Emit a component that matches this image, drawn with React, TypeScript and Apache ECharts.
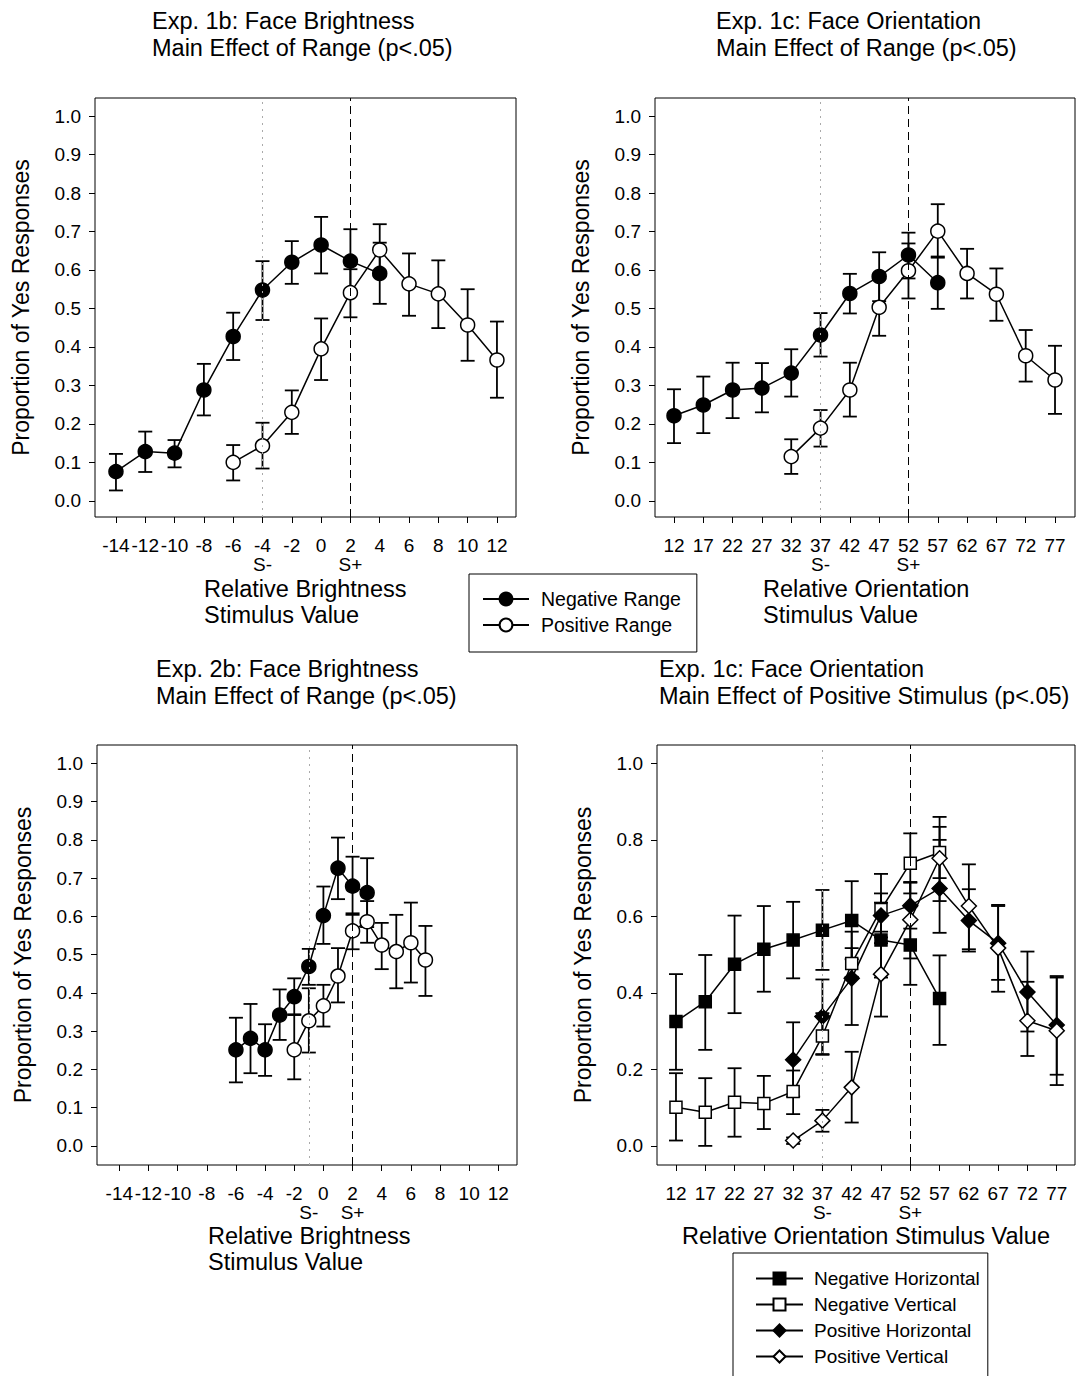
import React, { useEffect, useRef } from "react";
import * as echarts from "echarts";

const FONT = "'Liberation Sans', Arial, sans-serif";

// ---------- tick labels ----------
const brightTicks = [-14, -12, -10, -8, -6, -4, -2, 0, 2, 4, 6, 8, 10, 12];
const orientTicks = [12, 17, 22, 27, 32, 37, 42, 47, 52, 57, 62, 67, 72, 77];
const yTicksTenth = [0, 0.1, 0.2, 0.3, 0.4, 0.5, 0.6, 0.7, 0.8, 0.9, 1.0];
const yTicksFifth = [0, 0.2, 0.4, 0.6, 0.8, 1.0];
const stimNames = ["S-", "S+"];

// ---------- Panel 1: Exp. 1b Face Brightness ----------
const p1Stim = [-4, 2];
const p1NegX = [-14, -12, -10, -8, -6, -4, -2, 0, 2, 4];
const p1Neg = [0.076, 0.128, 0.124, 0.288, 0.427, 0.548, 0.62, 0.665, 0.623, 0.591];
const p1NegLo = [0.027, 0.075, 0.087, 0.222, 0.366, 0.47, 0.564, 0.591, 0.541, 0.512];
const p1NegHi = [0.122, 0.18, 0.158, 0.356, 0.489, 0.623, 0.675, 0.738, 0.706, 0.671];
const p1PosX = [-6, -4, -2, 0, 2, 4, 6, 8, 10, 12];
const p1Pos = [0.1, 0.143, 0.23, 0.395, 0.541, 0.652, 0.564, 0.538, 0.457, 0.366];
const p1PosLo = [0.053, 0.084, 0.174, 0.314, 0.477, 0.585, 0.481, 0.449, 0.364, 0.268];
const p1PosHi = [0.145, 0.203, 0.287, 0.474, 0.602, 0.719, 0.643, 0.625, 0.55, 0.466];

// ---------- Panel 2: Exp. 1c Face Orientation ----------
const p2Stim = [37, 52];
const p2NegX = [12, 17, 22, 27, 32, 37, 42, 47, 52, 57];
const p2Neg = [0.221, 0.249, 0.288, 0.293, 0.332, 0.431, 0.539, 0.583, 0.639, 0.567];
const p2NegLo = [0.15, 0.176, 0.215, 0.23, 0.271, 0.375, 0.487, 0.519, 0.578, 0.499];
const p2NegHi = [0.29, 0.323, 0.359, 0.358, 0.394, 0.488, 0.59, 0.646, 0.697, 0.635];
const p2PosX = [32, 37, 42, 47, 52, 57, 62, 67, 72, 77];
const p2Pos = [0.115, 0.189, 0.288, 0.503, 0.598, 0.701, 0.591, 0.537, 0.377, 0.314];
const p2PosLo = [0.07, 0.141, 0.219, 0.429, 0.526, 0.632, 0.526, 0.468, 0.31, 0.226];
const p2PosHi = [0.16, 0.236, 0.359, 0.577, 0.669, 0.771, 0.655, 0.604, 0.444, 0.403];

// ---------- Panel 3: Exp. 2b Face Brightness ----------
const p3Stim = [-1, 2];
const p3NegX = [-6, -5, -4, -3, -2, -1, 0, 1, 2, 3];
const p3Neg = [0.251, 0.281, 0.251, 0.342, 0.39, 0.469, 0.602, 0.726, 0.679, 0.662];
const p3NegLo = [0.166, 0.19, 0.183, 0.277, 0.342, 0.421, 0.528, 0.645, 0.604, 0.572];
const p3NegHi = [0.335, 0.371, 0.318, 0.409, 0.438, 0.515, 0.678, 0.806, 0.756, 0.752];
const p3PosX = [-2, -1, 0, 1, 2, 3, 4, 5, 6, 7];
const p3Pos = [0.251, 0.327, 0.366, 0.444, 0.562, 0.586, 0.525, 0.508, 0.531, 0.486];
const p3PosLo = [0.174, 0.244, 0.312, 0.375, 0.514, 0.531, 0.462, 0.412, 0.427, 0.392];
const p3PosHi = [0.344, 0.412, 0.421, 0.517, 0.608, 0.64, 0.583, 0.604, 0.636, 0.575];

// ---------- Panel 4: Exp. 1c Face Orientation, positive stimulus ----------
const p4Stim = [37, 52];
const p4NegX = [12, 17, 22, 27, 32, 37, 42, 47, 52, 57];
const p4NegH = [0.325, 0.377, 0.475, 0.514, 0.538, 0.564, 0.589, 0.538, 0.525, 0.385];
const p4NegHLo = [0.199, 0.251, 0.347, 0.403, 0.438, 0.46, 0.488, 0.44, 0.421, 0.264];
const p4NegHHi = [0.449, 0.499, 0.602, 0.627, 0.638, 0.669, 0.692, 0.636, 0.625, 0.498];
const p4NegV = [0.101, 0.088, 0.114, 0.111, 0.142, 0.287, 0.477, 0.618, 0.739, 0.767];
const p4NegVLo = [0.014, 0.0, 0.024, 0.044, 0.083, 0.238, 0.442, 0.53, 0.66, 0.7];
const p4NegVHi = [0.19, 0.177, 0.203, 0.183, 0.197, 0.347, 0.517, 0.711, 0.817, 0.834];
const p4PosX = [32, 37, 42, 47, 52, 57, 62, 67, 72, 77];
const p4PosH = [0.225, 0.338, 0.438, 0.602, 0.628, 0.673, 0.589, 0.53, 0.402, 0.316];
const p4PosHLo = [0.129, 0.24, 0.316, 0.545, 0.568, 0.557, 0.514, 0.434, 0.299, 0.186];
const p4PosHHi = [0.323, 0.435, 0.56, 0.66, 0.688, 0.8, 0.671, 0.627, 0.508, 0.444];
const p4PosV = [0.014, 0.066, 0.153, 0.449, 0.591, 0.752, 0.627, 0.517, 0.327, 0.301];
const p4PosVLo = [0.005, 0.037, 0.061, 0.338, 0.49, 0.64, 0.508, 0.403, 0.235, 0.159];
const p4PosVHi = [0.022, 0.094, 0.246, 0.56, 0.69, 0.86, 0.736, 0.63, 0.429, 0.44];

type S = {
  name: string;
  x: number[];
  y: number[];
  lo: number[];
  hi: number[];
  symbol: string;
  size: number;
  filled: boolean;
};

type Panel = {
  grid: { left: number; top: number; width: number; height: number };
  xMin: number;
  xMax: number;
  yMin: number;
  yMax: number;
  xTicks: number[];
  yTicks: number[];
  stim: number[];
  series: S[];
};

const panels: Panel[] = [
  {
    grid: { left: 95, top: 98, width: 421, height: 419 },
    xMin: -15.43, xMax: 13.3, yMin: -0.042, yMax: 1.047,
    xTicks: brightTicks, yTicks: yTicksTenth, stim: p1Stim,
    series: [
      { name: "Negative Range", x: p1NegX, y: p1Neg, lo: p1NegLo, hi: p1NegHi, symbol: "circle", size: 14, filled: true },
      { name: "Positive Range", x: p1PosX, y: p1Pos, lo: p1PosLo, hi: p1PosHi, symbol: "circle", size: 14, filled: false },
    ],
  },
  {
    grid: { left: 655, top: 98, width: 420, height: 419 },
    xMin: 8.76, xMax: 80.41, yMin: -0.042, yMax: 1.047,
    xTicks: orientTicks, yTicks: yTicksTenth, stim: p2Stim,
    series: [
      { name: "Negative Range", x: p2NegX, y: p2Neg, lo: p2NegLo, hi: p2NegHi, symbol: "circle", size: 14, filled: true },
      { name: "Positive Range", x: p2PosX, y: p2Pos, lo: p2PosLo, hi: p2PosHi, symbol: "circle", size: 14, filled: false },
    ],
  },
  {
    grid: { left: 97, top: 745, width: 420, height: 420 },
    xMin: -15.53, xMax: 13.28, yMin: -0.05, yMax: 1.048,
    xTicks: brightTicks, yTicks: yTicksTenth, stim: p3Stim,
    series: [
      { name: "Negative Range", x: p3NegX, y: p3Neg, lo: p3NegLo, hi: p3NegHi, symbol: "circle", size: 14, filled: true },
      { name: "Positive Range", x: p3PosX, y: p3Pos, lo: p3PosLo, hi: p3PosHi, symbol: "circle", size: 14, filled: false },
    ],
  },
  {
    grid: { left: 657, top: 745, width: 418, height: 420 },
    xMin: 8.76, xMax: 80.12, yMin: -0.05, yMax: 1.048,
    xTicks: orientTicks, yTicks: yTicksFifth, stim: p4Stim,
    series: [
      { name: "Negative Horizontal", x: p4NegX, y: p4NegH, lo: p4NegHLo, hi: p4NegHHi, symbol: "rect", size: 12, filled: true },
      { name: "Negative Vertical", x: p4NegX, y: p4NegV, lo: p4NegVLo, hi: p4NegVHi, symbol: "rect", size: 12, filled: false },
      { name: "Positive Horizontal", x: p4PosX, y: p4PosH, lo: p4PosHLo, hi: p4PosHHi, symbol: "diamond", size: 15, filled: true },
      { name: "Positive Vertical", x: p4PosX, y: p4PosV, lo: p4PosVLo, hi: p4PosVHi, symbol: "diamond", size: 15, filled: false },
    ],
  },
];

const titles = [
  { text: "Exp. 1b: Face Brightness\nMain Effect of Range (p<.05)", left: 152, top: 7 },
  { text: "Exp. 1c: Face Orientation\nMain Effect of Range (p<.05)", left: 716, top: 7 },
  { text: "Exp. 2b: Face Brightness\nMain Effect of Range (p<.05)", left: 156, top: 655 },
  { text: "Exp. 1c: Face Orientation\nMain Effect of Positive Stimulus (p<.05)", left: 659, top: 655 },
];

const xNames = [
  { text: "Relative Brightness\nStimulus Value", x: 204, y: 602, align: "left" },
  { text: "Relative Orientation\nStimulus Value", x: 763, y: 602, align: "left" },
  { text: "Relative Brightness\nStimulus Value", x: 208, y: 1249, align: "left" },
  { text: "Relative Orientation Stimulus Value", x: 866, y: 1236, align: "center" },
];

const errRender = (params: any, api: any) => {
  const x = api.value(0);
  const lo = api.value(1);
  const hi = api.value(2);
  const top = api.coord([x, hi]);
  const bot = api.coord([x, lo]);
  const w = 7;
  const style = { stroke: "#000", lineWidth: 1.8 };
  return {
    type: "group",
    children: [
      { type: "line", shape: { x1: top[0], y1: top[1], x2: bot[0], y2: bot[1] }, style },
      { type: "line", shape: { x1: top[0] - w, y1: top[1], x2: top[0] + w, y2: top[1] }, style },
      { type: "line", shape: { x1: bot[0] - w, y1: bot[1], x2: bot[0] + w, y2: bot[1] }, style },
    ],
  };
};

function buildOption() {
  const grid: any[] = [];
  const xAxis: any[] = [];
  const yAxis: any[] = [];
  const series: any[] = [];

  panels.forEach((p, i) => {
    grid.push({
      ...p.grid,
      show: true,
      borderColor: "#000",
      borderWidth: 1,
      backgroundColor: "transparent",
      containLabel: false,
    });
    xAxis.push({
      type: "value",
      gridIndex: i,
      min: p.xMin,
      max: p.xMax,
      axisLine: { show: false, onZero: false },
      splitLine: { show: false },
      axisTick: { show: true, length: 6, customValues: p.xTicks, lineStyle: { color: "#000", width: 1 } },
      axisLabel: {
        customValues: p.xTicks,
        margin: 20,
        color: "#000",
        fontSize: 19,
        lineHeight: 17,
        fontFamily: FONT,
        formatter: (v: number) => String(v),
      },
    });
    xAxis.push({
      type: "value",
      gridIndex: i,
      min: p.xMin,
      max: p.xMax,
      position: "bottom",
      axisLine: { show: false, onZero: false },
      splitLine: { show: false },
      axisTick: { show: false },
      axisLabel: {
        customValues: p.stim,
        margin: 39,
        color: "#000",
        fontSize: 19,
        lineHeight: 17,
        fontFamily: FONT,
        formatter: (v: number) => stimNames[p.stim.indexOf(v)],
      },
    });
    yAxis.push({
      type: "value",
      gridIndex: i,
      min: p.yMin,
      max: p.yMax,
      name: "Proportion of Yes Responses",
      nameLocation: "middle",
      nameGap: 63,
      nameTextStyle: { fontSize: 23, color: "#000", fontFamily: FONT },
      axisLine: { show: false, onZero: false },
      splitLine: { show: false },
      axisTick: { show: true, length: 6, customValues: p.yTicks, lineStyle: { color: "#000", width: 1 } },
      axisLabel: {
        customValues: p.yTicks,
        margin: 14,
        color: "#000",
        fontSize: 19,
        fontFamily: FONT,
        formatter: (v: number) => v.toFixed(1),
      },
    });

    p.series.forEach((s) => {
      series.push({
        type: "custom",
        name: s.name + " error",
        xAxisIndex: i * 2,
        yAxisIndex: i,
        renderItem: errRender,
        data: s.x.map((v, k) => [v, s.lo[k], s.hi[k]]),
        encode: { x: 0, y: [1, 2] },
        silent: true,
        z: 2,
      });
    });
    p.series.forEach((s, j) => {
      const ser: any = {
        type: "line",
        name: s.name,
        xAxisIndex: i * 2,
        yAxisIndex: i,
        data: s.x.map((v, k) => [v, s.y[k]]),
        symbol: s.symbol,
        symbolSize: s.size,
        showAllSymbol: true,
        lineStyle: { color: "#000", width: 1.5 },
        itemStyle: { color: s.filled ? "#000" : "#fff", borderColor: "#000", borderWidth: 1.5 },
        emphasis: { disabled: true },
        z: 3,
      };
      if (j === 0) {
        ser.markLine = {
          silent: true,
          symbol: ["none", "none"],
          label: { show: false },
          data: [
            { xAxis: p.stim[1], lineStyle: { type: [8, 5], color: "#000", width: 1 } },
            { xAxis: p.stim[0], lineStyle: { type: [2, 5], color: "#aaa", width: 1 } },
          ],
        };
      }
      series.push(ser);
    });
  });

  return {
    animation: false,
    backgroundColor: "#fff",
    textStyle: { fontFamily: FONT },
    title: titles.map((t) => ({
      text: t.text,
      left: t.left,
      top: t.top,
      padding: 0,
      textStyle: { fontSize: 23.5, lineHeight: 27, fontWeight: "normal", color: "#000", fontFamily: FONT },
    })),
    legend: [
      {
        data: ["Negative Range", "Positive Range"],
        orient: "vertical",
        left: 469,
        top: 574,
        itemWidth: 46,
        itemHeight: 16,
        itemGap: 6,
        padding: [15, 16, 17, 13],
        borderColor: "#000",
        borderWidth: 1,
        selectedMode: false,
        textStyle: { fontSize: 19.5, lineHeight: 18, color: "#000", fontFamily: FONT, padding: [0, 0, 0, 7] },
      },
      {
        data: ["Negative Horizontal", "Negative Vertical", "Positive Horizontal", "Positive Vertical"],
        orient: "vertical",
        left: 733,
        top: 1253,
        height: 200,
        itemWidth: 47,
        itemHeight: 15,
        itemGap: 7,
        padding: [16, 8, 40, 22],
        borderColor: "#000",
        borderWidth: 1,
        selectedMode: false,
        textStyle: { fontSize: 19, lineHeight: 18, color: "#000", fontFamily: FONT, padding: [0, 0, 0, 6] },
      },
    ],
    graphic: xNames.map((t) => ({
      type: "text",
      x: t.x,
      y: t.y,
      style: {
        text: t.text,
        fontSize: 23.5,
        lineHeight: 26,
        fontFamily: FONT,
        fill: "#000",
        textAlign: t.align,
        textVerticalAlign: "middle",
      },
    })),
    grid,
    xAxis,
    yAxis,
    series,
  };
}

export default function App() {
  const ref = useRef<HTMLDivElement>(null);
  useEffect(() => {
    if (!ref.current) return;
    const chart = echarts.init(ref.current, undefined, { renderer: "svg" });
    chart.setOption(buildOption() as any);
    return () => chart.dispose();
  }, []);
  return (
    <div
      ref={ref}
      style={{ position: "absolute", left: 0, top: 0, width: 1076, height: 1376, background: "#fff" }}
    />
  );
}
